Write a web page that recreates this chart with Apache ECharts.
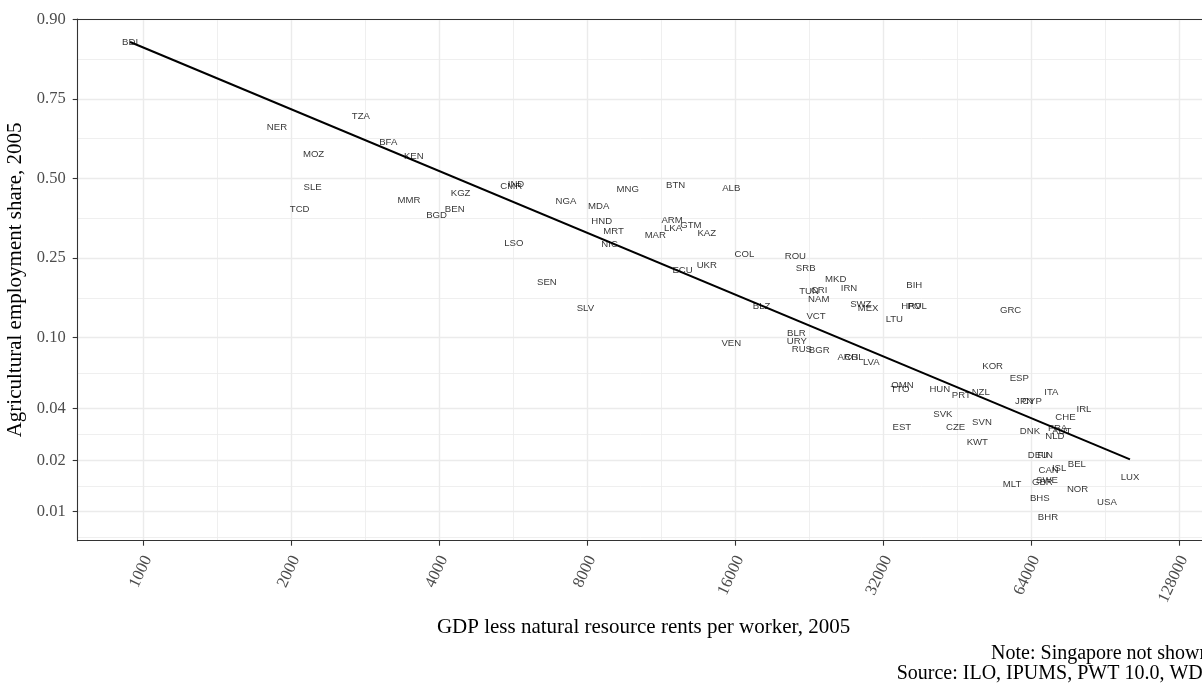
<!DOCTYPE html>
<html>
<head>
<meta charset="utf-8">
<script src="https://cdn.jsdelivr.net/npm/echarts@6/dist/echarts.min.js"></script>
<style>
  html, body { margin: 0; padding: 0; background: #ffffff; }
  #chart { width: 1202px; height: 683px; }
</style>
</head>
<body>
<div id="chart"></div>
<script>
// Country codes, GDP less natural resource rents per worker (2005) and agricultural employment share (2005)
const countries = ['BDI','NER','TZA','MOZ','BFA','SLE','TCD','KEN','MMR','KGZ','BEN','BGD','CMR','IND','NGA','MNG','MDA','BTN','ALB','HND','MRT','NIC','ARM','LKA','GTM','MAR','KAZ','LSO','COL','ROU','ECU','UKR','SEN','SLV','BLZ','VEN','SRB','MKD','BIH','TUN','CRI','IRN','NAM','SWZ','MEX','HRV','POL','GRC','VCT','LTU','BLR','URY','RUS','BGR','ARG','CHL','LVA','KOR','ESP','OMN','TTO','HUN','PRT','NZL','ITA','JPN','CYP','IRL','SVK','CHE','SVN','EST','CZE','DNK','FRA','AUT','NLD','KWT','DEU','FIN','BEL','CAN','ISL','LUX','MLT','GBR','SWE','NOR','BHS','USA','BHR'];

const gdpPerWorker = [940,1870,2770,2220,3150,2210,2080,3550,3470,4420,4300,3950,5600,5730,7240,9670,8440,12100,15700,8560,9050,8880,11900,11950,13000,11000,14000,5670,16700,21200,12500,14000,6620,7930,18100,15700,22250,25600,37000,22600,23700,27250,23650,28800,29800,36500,37500,58100,23350,33700,21300,21350,21850,23700,27100,27900,30250,53400,60500,35000,34600,41700,46100,50500,70300,61900,64200,81900,42300,75100,50800,34900,44900,63600,72400,73800,71500,49700,66000,68300,79200,69400,72900,101600,58500,67400,68900,79500,66600,91200,69200];

const agShare = [0.867,0.671,0.701,0.584,0.621,0.468,0.394,0.575,0.424,0.448,0.394,0.374,0.472,0.479,0.421,0.461,0.404,0.476,0.465,0.356,0.326,0.288,0.358,0.333,0.343,0.313,0.319,0.289,0.261,0.254,0.219,0.231,0.192,0.142,0.146,0.093,0.224,0.200,0.186,0.173,0.176,0.180,0.159,0.150,0.143,0.147,0.147,0.139,0.130,0.125,0.105,0.0959,0.0868,0.0849,0.078,0.078,0.0733,0.0693,0.0596,0.0542,0.0519,0.0517,0.0478,0.0494,0.0497,0.0443,0.0443,0.0397,0.037,0.0355,0.0332,0.0311,0.0311,0.0296,0.0307,0.0297,0.0275,0.0255,0.0213,0.0213,0.0191,0.0176,0.018,0.016,0.0145,0.0148,0.0153,0.0136,0.0119,0.0113,0.0092];

// Fitted line (log2 GDP vs logit share), endpoints at the data's x range
const fitGdp = [940, 101600];
const fitShare = [0.868, 0.0203];

// Axis breaks
const xTicks = [1000, 2000, 4000, 8000, 16000, 32000, 64000, 128000];
const xTickLabels = ['1000', '2000', '4000', '8000', '16000', '32000', '64000', '128000'];
const yTicks = [0.01, 0.02, 0.04, 0.10, 0.25, 0.50, 0.75, 0.90];
const yTickLabels = ['0.01', '0.02', '0.04', '0.10', '0.25', '0.50', '0.75', '0.90'];

// Scale transforms: log2 on x, logit on y
const tx = v => Math.log2(v);
const ty = p => Math.log(p / (1 - p));

// Axis extents in transformed units
const xMin = 9.5226, xMax = 17.1692;
const yMin = -4.9995, yMax = 2.2013;

// Minor breaks: midpoints between majors, extended by one step beyond each end
function minorBreaks(major, lo, hi) {
  const b = major.slice();
  if (lo < b[0]) b.unshift(b[0] - (b[1] - b[0]));
  const n = b.length;
  if (hi > b[n - 1]) b.push(b[n - 1] + (b[n - 1] - b[n - 2]));
  const out = [];
  for (let i = 0; i < b.length - 1; i++) {
    const m = (b[i] + b[i + 1]) / 2;
    if (m >= lo && m <= hi) out.push(m);
  }
  return out;
}

const xMajor = xTicks.map(tx);
const yMajor = yTicks.map(ty);
const xMinor = minorBreaks(xMajor, xMin, xMax);
const yMinor = minorBreaks(yMajor, yMin, yMax);

const lookup = (vals, labels) => v => {
  for (let i = 0; i < vals.length; i++) if (Math.abs(vals[i] - v) < 1e-6) return labels[i];
  return '';
};

const SERIF = '"Liberation Serif", "Times New Roman", serif';
const SANS = '"Liberation Sans", Arial, sans-serif';
const AXIS_COL = '#333333';
const GRID_COL = '#ebebeb';

const points = countries.map((c, i) => [tx(gdpPerWorker[i]), ty(agShare[i]), c]);
const fitLine = fitGdp.map((g, i) => [tx(g), ty(fitShare[i])]);

const chart = echarts.init(document.getElementById('chart'), null, { renderer: 'canvas' });

chart.setOption({
  animation: false,
  backgroundColor: '#ffffff',
  grid: { left: 77.7, right: -7.4, top: 19, bottom: 142.3, containLabel: false, outerBoundsMode: 'none' },
  xAxis: [
    {
      type: 'value', min: xMin, max: xMax, position: 'bottom',
      axisLine: { show: true, onZero: false, lineStyle: { color: AXIS_COL, width: 1.1 } },
      axisTick: { show: true, customValues: xMajor, length: 5, lineStyle: { color: AXIS_COL, width: 1.1 } },
      axisLabel: {
        customValues: xMajor, formatter: lookup(xMajor, xTickLabels),
        rotate: 65, margin: 14, verticalAlign: 'top', lineHeight: 10,
        color: '#4d4d4d', fontFamily: SERIF, fontSize: 16.5
      },
      splitLine: { show: true, lineStyle: { color: GRID_COL, width: 1.4 } },
      name: 'GDP less natural resource rents per worker, 2005',
      nameLocation: 'middle', nameGap: 76,
      nameTextStyle: { fontFamily: SERIF, fontSize: 21, color: '#000000' }
    },
    {
      type: 'value', min: xMin, max: xMax, position: 'top',
      axisLine: { show: true, onZero: false, lineStyle: { color: AXIS_COL, width: 1.1 } },
      axisTick: { show: false, customValues: xMinor },
      axisLabel: { show: false },
      splitLine: { show: true, lineStyle: { color: GRID_COL, width: 0.8 } }
    }
  ],
  yAxis: [
    {
      type: 'value', min: yMin, max: yMax, position: 'left',
      axisLine: { show: true, onZero: false, lineStyle: { color: AXIS_COL, width: 1.1 } },
      axisTick: { show: true, customValues: yMajor, length: 5, lineStyle: { color: AXIS_COL, width: 1.1 } },
      axisLabel: {
        customValues: yMajor, formatter: lookup(yMajor, yTickLabels),
        margin: 12, color: '#4d4d4d', fontFamily: SERIF, fontSize: 16.5
      },
      splitLine: { show: true, lineStyle: { color: GRID_COL, width: 1.4 } },
      name: 'Agricultural employment share, 2005',
      nameLocation: 'middle', nameGap: 50,
      nameTextStyle: { fontFamily: SERIF, fontSize: 21, color: '#000000' }
    },
    {
      type: 'value', min: yMin, max: yMax, position: 'right',
      axisLine: { show: false },
      axisTick: { show: false, customValues: yMinor },
      axisLabel: { show: false },
      splitLine: { show: true, lineStyle: { color: GRID_COL, width: 0.8 } }
    }
  ],
  series: [
    {
      type: 'scatter', xAxisIndex: 0, yAxisIndex: 0,
      data: points, symbolSize: 1,
      itemStyle: { color: 'rgba(0,0,0,0)' },
      silent: true,
      label: {
        show: true, position: 'inside',
        formatter: p => p.value[2],
        color: '#000000', fontFamily: SANS, fontSize: 9.6
      },
      emphasis: { disabled: true },
      z: 2
    },
    {
      type: 'line', xAxisIndex: 0, yAxisIndex: 0,
      data: fitLine, showSymbol: false, symbol: 'none', silent: true,
      lineStyle: { color: '#000000', width: 2 },
      z: 3
    }
  ],
  graphic: [
    {
      type: 'text', silent: true,
      style: { x: 1209.4, y: 654, text: 'Note: Singapore not shown', align: 'right', verticalAlign: 'middle',
               font: '20px "Liberation Serif", serif', fill: '#000000' }
    },
    {
      type: 'text', silent: true,
      style: { x: 1209.4, y: 674, text: 'Source: ILO, IPUMS, PWT 10.0, WDI', align: 'right', verticalAlign: 'middle',
               font: '20px "Liberation Serif", serif', fill: '#000000' }
    }
  ]
});
</script>
</body>
</html>
